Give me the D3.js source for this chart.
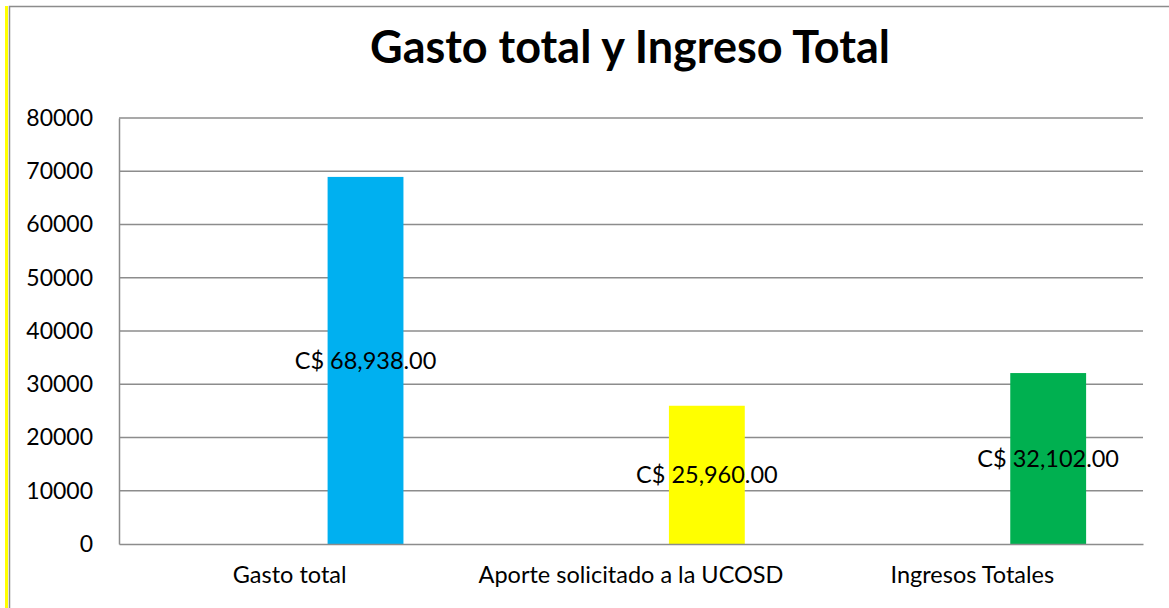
<!DOCTYPE html>
<html>
<head>
<meta charset="utf-8">
<script src="https://cdn.jsdelivr.net/npm/d3@7"></script>
<style>
  html, body { margin: 0; padding: 0; background: #fff; }
  svg { display: block; font-family: Lato, "Open Sans", sans-serif; }
</style>
</head>
<body>
<div id="chart"></div>
<script>
// chart data
const categories = ["Gasto total", "Aporte solicitado a la UCOSD", "Ingresos Totales"];
const values = [68938, 25960, 32102];
const valueLabels = ["C$ 68,938.00", "C$ 25,960.00", "C$ 32,102.00"];
const barColors = ["#00B0F0", "#FFFF00", "#00B050"];
const yTicks = [0, 10000, 20000, 30000, 40000, 50000, 60000, 70000, 80000];
// excel cluster slots - only the third one holds a value
const seriesSlots = ["a", "b", "monto"];

const width = 1169, height = 608;
const margin = { top: 118, right: 26, bottom: 64, left: 119 };

const svg = d3.select("#chart")
  .append("svg")
  .attr("width", width)
  .attr("height", height);

// frame: yellow stripe + grey border
svg.append("rect").attr("x", 5).attr("y", 6).attr("width", 3).attr("height", height - 6).attr("fill", "#FFFF00");
svg.append("path")
  .attr("d", "M9.5," + height + "V6.5H" + width)
  .attr("fill", "none").attr("stroke", "#8c8c8c").attr("stroke-width", 1.5);

const x0 = d3.scaleBand()
  .domain(categories)
  .range([margin.left, width - margin.right]);

const x1 = d3.scaleBand()
  .domain(seriesSlots)
  .range([0, x0.bandwidth()])
  .paddingInner(0)
  .paddingOuter(0.75);

const y = d3.scaleLinear()
  .domain([0, 80000])
  .range([height - margin.bottom, margin.top]);

// gridlines
svg.append("g")
  .selectAll("line")
  .data(yTicks.slice(1))
  .join("line")
  .attr("x1", margin.left).attr("x2", width - margin.right)
  .attr("y1", d => y(d)).attr("y2", d => y(d))
  .attr("stroke", "#8c8c8c").attr("stroke-width", 1.5);

// bars
svg.append("g")
  .selectAll("rect")
  .data(values)
  .join("rect")
  .attr("x", (d, i) => x0(categories[i]) + x1("monto"))
  .attr("y", d => y(d))
  .attr("width", x1.bandwidth())
  .attr("height", d => y(0) - y(d))
  .attr("fill", (d, i) => barColors[i]);

// y axis
const yAxis = svg.append("g")
  .attr("transform", "translate(" + margin.left + ",0)")
  .call(d3.axisLeft(y).tickValues(yTicks).tickFormat(d3.format("d")).tickSize(0).tickPadding(26));
yAxis.select(".domain").attr("stroke", "#8c8c8c").attr("stroke-width", 1.5);
yAxis.selectAll("text").attr("font-size", 23).attr("font-family", "Lato").attr("fill", "#000");

// x axis
const xAxis = svg.append("g")
  .attr("transform", "translate(0," + y(0) + ")")
  .call(d3.axisBottom(x0).tickSize(0).tickPadding(22));
xAxis.select(".domain").attr("stroke", "#8c8c8c").attr("stroke-width", 1.5);
xAxis.selectAll("text").attr("font-size", 23.5).attr("font-family", "Lato").attr("fill", "#000");

// data labels centred on bars
svg.append("g")
  .selectAll("text")
  .data(values)
  .join("text")
  .attr("x", (d, i) => x0(categories[i]) + x1("monto") + x1.bandwidth() / 2)
  .attr("y", d => (y(d) + y(0)) / 2)
  .attr("dy", "0.35em")
  .attr("text-anchor", "middle")
  .attr("font-size", 23.5)
  .text((d, i) => valueLabels[i]);

// title
svg.append("text")
  .attr("x", 630)
  .attr("y", 63)
  .attr("text-anchor", "middle")
  .attr("font-size", 45)
  .attr("font-weight", "bold")
  .text("Gasto total y Ingreso Total");
</script>
</body>
</html>
